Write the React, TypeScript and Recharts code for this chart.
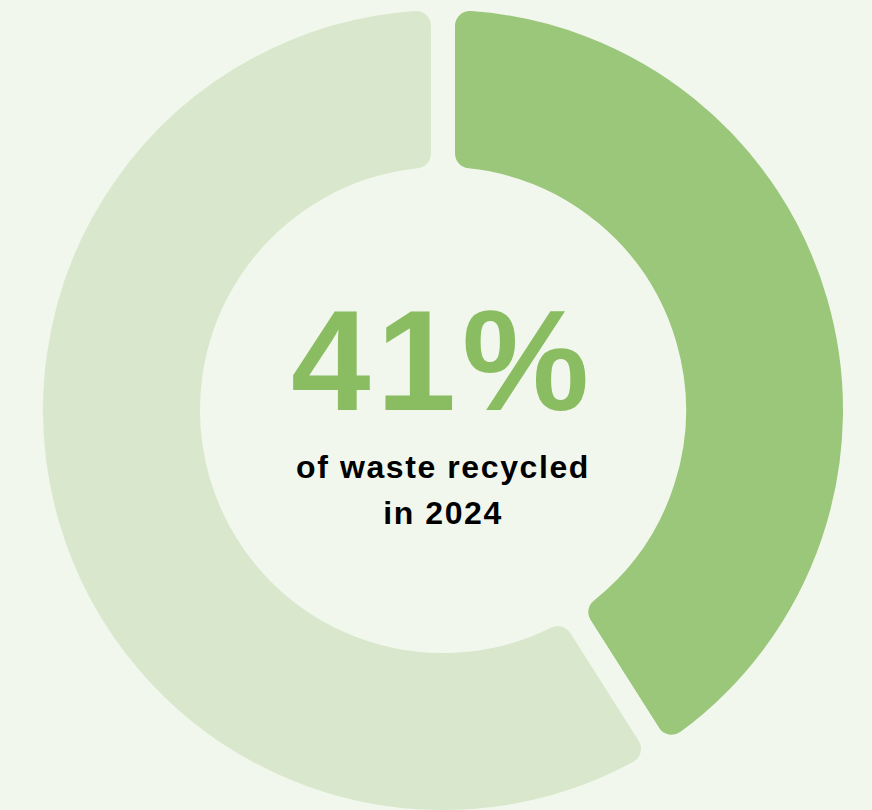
import { PieChart, Pie, Cell } from 'recharts';

const categories = ['Recycled', 'Not recycled'];
const shares = [41, 59];
const headline = '41%';
const captionLines = ['of waste recycled', 'in 2024'];

const BG = '#f2f7ee';
const sliceColors = ['#9bc77b', '#d9e8cc'];

const data = categories.map((name, i) => ({ name, value: shares[i] }));

const App = () => {
  return (
    <div
      style={{
        position: 'fixed',
        top: 0,
        left: 0,
        width: 872,
        height: 810,
        background: BG,
        overflow: 'hidden',
      }}
    >
      <PieChart width={872} height={810} margin={{ top: 0, right: 0, bottom: 0, left: 0 }}>
        <Pie
          data={data}
          dataKey="value"
          nameKey="name"
          cx={443}
          cy={410}
          innerRadius={231}
          outerRadius={412}
          startAngle={90}
          endAngle={-270}
          cornerRadius={27}
          stroke={BG}
          strokeWidth={24}
          isAnimationActive={false}
        >
          {data.map((d, i) => (
            <Cell key={d.name} fill={sliceColors[i]} stroke={BG} strokeWidth={24} />
          ))}
        </Pie>
      </PieChart>
      {/* centre text overlay */}
      <div
        style={{
          position: 'absolute',
          left: 0,
          width: 886,
          top: 278,
          textAlign: 'center',
          fontFamily: '"Liberation Sans", Arial, sans-serif',
          fontWeight: 700,
        }}
      >
        <div style={{ fontSize: 143, lineHeight: '166px', color: '#8abd62', letterSpacing: 6 }}>
          {headline}
        </div>
        <div style={{ fontSize: 32, lineHeight: '46px', color: '#000', letterSpacing: 1.6, marginTop: 0 }}>
          {captionLines.map((l) => (
            <div key={l}>{l}</div>
          ))}
        </div>
      </div>
    </div>
  );
};

export default App;
